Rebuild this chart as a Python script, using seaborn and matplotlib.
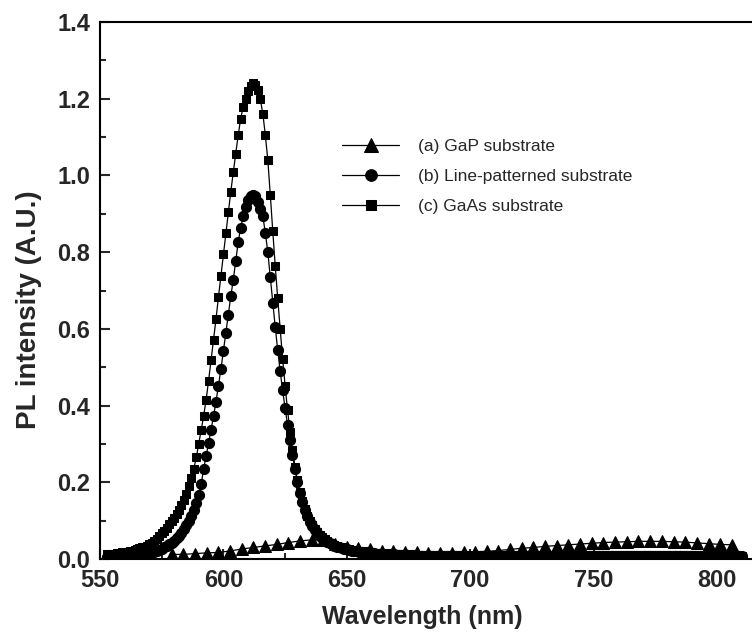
import matplotlib
matplotlib.use('Agg')
import matplotlib.pyplot as plt
import seaborn as sns
from matplotlib.ticker import MultipleLocator

# PL spectra (1 nm grid for the two strong curves)
wavelength = list(range(553, 811))

gaas = [
    0.013, 0.013, 0.014, 0.014, 0.015, 0.016, 0.017, 0.018, 0.019, 0.020,
    0.022, 0.024, 0.026, 0.028, 0.030, 0.032, 0.035, 0.038, 0.042, 0.047,
    0.053, 0.060, 0.067, 0.074, 0.082, 0.090, 0.099, 0.108, 0.118, 0.129,
    0.141, 0.155, 0.170, 0.190, 0.210, 0.235, 0.265, 0.300, 0.337, 0.373,
    0.415, 0.465, 0.518, 0.570, 0.625, 0.683, 0.738, 0.795, 0.850, 0.905,
    0.958, 1.008, 1.057, 1.105, 1.148, 1.178, 1.200, 1.220, 1.234, 1.240,
    1.236, 1.222, 1.198, 1.160, 1.105, 1.040, 0.950, 0.855, 0.765, 0.680,
    0.600, 0.522, 0.452, 0.388, 0.332, 0.283, 0.241, 0.205, 0.175, 0.150,
    0.130, 0.113, 0.099, 0.088, 0.078, 0.070, 0.063, 0.057, 0.052, 0.047,
    0.043, 0.040, 0.037, 0.034, 0.032, 0.030, 0.028, 0.026, 0.025, 0.024,
    0.022, 0.021, 0.020, 0.019, 0.019, 0.018, 0.017, 0.017, 0.016, 0.016,
    0.015, 0.015, 0.014, 0.014, 0.014, 0.013, 0.013, 0.013, 0.012, 0.012,
    0.012, 0.012, 0.011, 0.011, 0.011, 0.011, 0.011, 0.010, 0.010, 0.010,
    0.010, 0.010, 0.010, 0.010, 0.010, 0.010, 0.010, 0.010, 0.010, 0.010,
    0.010, 0.010, 0.010, 0.010, 0.009, 0.009, 0.009, 0.009, 0.009, 0.009,
    0.009, 0.009, 0.009, 0.009, 0.009, 0.009, 0.009, 0.009, 0.009, 0.009,
    0.009, 0.009, 0.009, 0.009, 0.009, 0.009, 0.009, 0.009, 0.009, 0.009,
    0.009, 0.009, 0.009, 0.009, 0.009, 0.009, 0.009, 0.009, 0.009, 0.009,
    0.009, 0.009, 0.009, 0.009, 0.009, 0.009, 0.010, 0.010, 0.010, 0.010,
    0.010, 0.010, 0.010, 0.010, 0.010, 0.010, 0.010, 0.010, 0.010, 0.010,
    0.010, 0.010, 0.010, 0.010, 0.010, 0.010, 0.010, 0.010, 0.010, 0.010,
    0.010, 0.010, 0.010, 0.010, 0.010, 0.010, 0.010, 0.010, 0.010, 0.010,
    0.010, 0.010, 0.010, 0.010, 0.010, 0.010, 0.010, 0.010, 0.010, 0.010,
    0.010, 0.010, 0.010, 0.010, 0.010, 0.010, 0.010, 0.010, 0.010, 0.010,
    0.010, 0.010, 0.010, 0.010, 0.010, 0.009, 0.009, 0.009, 0.009, 0.009,
    0.009, 0.009, 0.009, 0.009, 0.009, 0.009, 0.009, 0.009,
]

line_patterned = [
    0.004, 0.004, 0.004, 0.005, 0.005, 0.005, 0.006, 0.006, 0.007, 0.007,
    0.008, 0.008, 0.009, 0.010, 0.011, 0.012, 0.013, 0.015, 0.017, 0.019,
    0.021, 0.024, 0.027, 0.030, 0.034, 0.038, 0.043, 0.048, 0.054, 0.061,
    0.069, 0.078, 0.088, 0.099, 0.112, 0.127, 0.145, 0.167, 0.195, 0.235,
    0.268, 0.303, 0.337, 0.372, 0.410, 0.452, 0.495, 0.543, 0.590, 0.637,
    0.685, 0.728, 0.778, 0.826, 0.864, 0.893, 0.918, 0.936, 0.946, 0.950,
    0.946, 0.932, 0.912, 0.893, 0.850, 0.800, 0.735, 0.668, 0.605, 0.545,
    0.490, 0.440, 0.393, 0.350, 0.310, 0.272, 0.235, 0.200, 0.172, 0.148,
    0.128, 0.111, 0.097, 0.085, 0.075, 0.067, 0.060, 0.054, 0.049, 0.045,
    0.041, 0.038, 0.035, 0.032, 0.030, 0.028, 0.026, 0.025, 0.023, 0.022,
    0.021, 0.020, 0.019, 0.018, 0.017, 0.017, 0.016, 0.015, 0.015, 0.014,
    0.014, 0.013, 0.013, 0.013, 0.012, 0.012, 0.012, 0.011, 0.011, 0.011,
    0.011, 0.010, 0.010, 0.010, 0.010, 0.010, 0.009, 0.009, 0.009, 0.009,
    0.009, 0.009, 0.009, 0.009, 0.009, 0.009, 0.009, 0.009, 0.009, 0.009,
    0.009, 0.009, 0.009, 0.009, 0.008, 0.008, 0.008, 0.008, 0.008, 0.008,
    0.008, 0.008, 0.008, 0.008, 0.008, 0.008, 0.008, 0.008, 0.008, 0.008,
    0.008, 0.008, 0.008, 0.008, 0.008, 0.008, 0.008, 0.008, 0.008, 0.008,
    0.008, 0.008, 0.008, 0.008, 0.008, 0.008, 0.008, 0.008, 0.008, 0.008,
    0.008, 0.008, 0.008, 0.008, 0.008, 0.008, 0.008, 0.008, 0.008, 0.008,
    0.008, 0.008, 0.008, 0.008, 0.008, 0.008, 0.008, 0.008, 0.008, 0.008,
    0.008, 0.008, 0.008, 0.008, 0.008, 0.008, 0.008, 0.008, 0.008, 0.008,
    0.008, 0.008, 0.008, 0.008, 0.008, 0.008, 0.008, 0.008, 0.008, 0.008,
    0.008, 0.008, 0.008, 0.008, 0.008, 0.008, 0.008, 0.008, 0.008, 0.008,
    0.008, 0.008, 0.008, 0.008, 0.008, 0.008, 0.008, 0.008, 0.008, 0.008,
    0.008, 0.008, 0.008, 0.008, 0.008, 0.008, 0.008, 0.008, 0.008, 0.008,
    0.008, 0.008, 0.008, 0.008, 0.008, 0.008, 0.008, 0.008,
]

# GaP substrate is sampled more coarsely
gap_wavelength = [
    579.0, 583.7, 588.5, 593.2, 597.9, 602.7, 607.4, 612.1, 616.8, 621.6,
    626.3, 631.0, 635.8, 640.5, 645.2, 650.0, 654.7, 659.4, 664.1, 668.9,
    673.6, 678.3, 683.1, 687.8, 692.5, 697.3, 702.0, 706.7, 711.4, 716.2,
    720.9, 725.6, 730.4, 735.1, 739.8, 744.6, 749.3, 754.0, 758.7, 763.5,
    768.2, 772.9, 777.7, 782.4, 787.1, 791.9, 796.6, 801.3, 806.0,
]
gap = [
    0.012, 0.012, 0.014, 0.016, 0.017, 0.021, 0.026, 0.030, 0.034, 0.038,
    0.043, 0.047, 0.050, 0.049, 0.040, 0.032, 0.028, 0.025, 0.022, 0.020,
    0.019, 0.017, 0.015, 0.015, 0.015, 0.017, 0.019, 0.020, 0.022, 0.025,
    0.028, 0.030, 0.033, 0.035, 0.037, 0.039, 0.041, 0.043, 0.044, 0.045,
    0.046, 0.046, 0.046, 0.045, 0.044, 0.042, 0.040, 0.038, 0.037,
]

sns.set_style('ticks')
plt.rcParams['font.family'] = ['Liberation Sans', 'DejaVu Sans']

fig = plt.figure(figsize=(7.52, 6.39), dpi=100)
# right edge of the axes runs past the picture, as in the original crop
ax = fig.add_axes([100 / 752, 80 / 639, 691 / 752, 537 / 639])

common = dict(color='black', linewidth=0.9, markeredgecolor='black', ax=ax)
sns.lineplot(x=gap_wavelength, y=gap, marker='^', markersize=8.5,
             label='(a) GaP substrate', **common)
sns.lineplot(x=wavelength, y=line_patterned, marker='o', markersize=7.3,
             label='(b) Line-patterned substrate', **common)
sns.lineplot(x=wavelength, y=gaas, marker='s', markersize=6.3,
             label='(c) GaAs substrate', **common)

ax.set_xlim(550, 830)
ax.set_ylim(0, 1.4)
ax.xaxis.set_major_locator(MultipleLocator(50))
ax.xaxis.set_minor_locator(MultipleLocator(25))
ax.yaxis.set_major_locator(MultipleLocator(0.2))
ax.yaxis.set_minor_locator(MultipleLocator(0.1))
ax.tick_params(which='major', direction='in', length=7, width=1.5,
               labelsize=17, pad=7, top=False, right=False)
ax.tick_params(which='minor', direction='in', length=4, width=1.5,
               top=False, right=False)
for lab in ax.get_xticklabels() + ax.get_yticklabels():
    lab.set_fontweight('bold')

for side in ['left', 'bottom', 'top', 'right']:
    ax.spines[side].set_linewidth(1.5)
    ax.spines[side].set_color('black')

ax.set_xlabel('Wavelength (nm)', fontsize=18, fontweight='bold')
ax.set_ylabel('PL intensity (A.U.)', fontsize=20, fontweight='bold')
ax.xaxis.set_label_coords(0.466, -0.085)
ax.yaxis.set_label_coords(-0.084, 0.464)

ax.legend(loc='upper left', bbox_to_anchor=(342 / 752, 1 - 139 / 639),
          bbox_transform=fig.transFigure, frameon=False, fontsize=12.5,
          handlelength=3.3, handletextpad=1.1, labelspacing=0.85,
          borderpad=0, borderaxespad=0, markerscale=1.15)

fig.savefig('out.png', dpi=100)
